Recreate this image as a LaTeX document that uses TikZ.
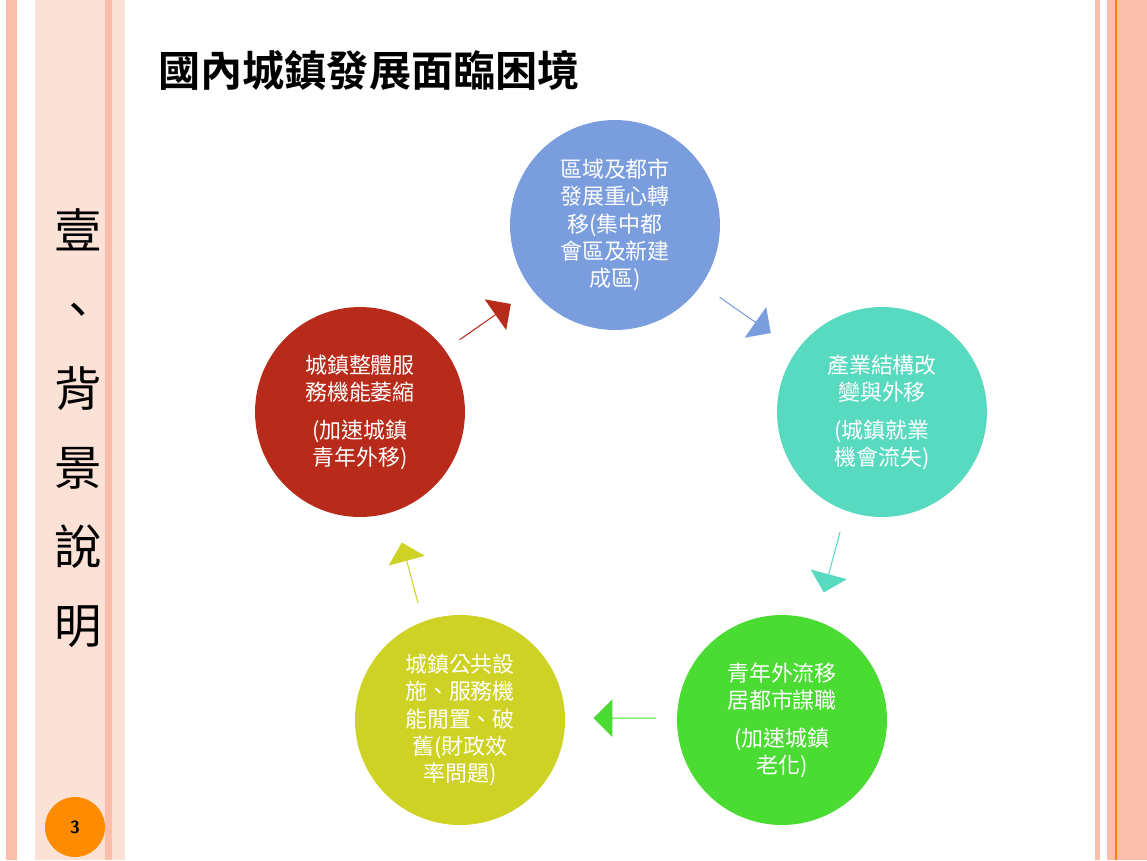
\documentclass[tikz,border=0pt]{standalone}
\usepackage{fontspec}
\newfontfamily\cjk{Noto Sans CJK TC}
\newfontfamily\cjkb{Noto Sans CJK TC Bold}
\usetikzlibrary{shapes.arrows,positioning}
\definecolor{salmon}{RGB}{250,190,170}
\definecolor{pinklt}{RGB}{252,225,215}
\definecolor{cBlue}{RGB}{122,157,222}
\definecolor{cTeal}{RGB}{88,218,192}
\definecolor{cGreen}{RGB}{74,220,50}
\definecolor{cYellow}{RGB}{206,210,36}
\definecolor{cRed}{RGB}{184,42,26}
\tikzset{
  stage/.style={circle,minimum size=4.2cm,inner sep=0pt,align=center,text=white,font=\cjk\fontsize{12.5}{15.5}\selectfont},
  blockarrow/.style={single arrow,single arrow head extend=0.25cm,minimum height=1.25cm,minimum width=0.75cm,inner sep=0pt}
}
\begin{document}
\begin{tikzpicture}[x=0.02cm,y=-0.02cm]
  % Background and borders
  \useasboundingbox[fill=white] (0,0) rectangle (1147,860);
  \fill[salmon] (6,0) rectangle (17,860);
  \fill[pinklt] (35,0) rectangle (105,860);
  \fill[salmon] (105,0) rectangle (112,860);
  \fill[pinklt] (112,0) rectangle (125,860);
  \fill[salmon] (1095,0) rectangle (1100,860);
  \fill[salmon] (1107,0) rectangle (1147,860);
  \draw[orange,line width=1.2pt] (1116,0) -- (1116,860);

  % Title and side heading
  \node[font=\cjkb\fontsize{24}{28}\selectfont,anchor=west] (title) at (152,70) {國內城鎮發展面臨困境};
  \node[font=\cjk\fontsize{27}{45}\selectfont,align=center] (side) at (78,428) {壹\\、\\背\\景\\說\\明};
  \node[circle,fill=orange!90!yellow,minimum size=1.2cm,font=\sffamily\bfseries] (page) at (75,827) {3};

  % Stages
  \node[stage,fill=cBlue] (shift) at (615,225) {區域及都市\\發展重心轉\\移(集中都\\會區及新建\\成區)};
  \node[stage,fill=cTeal] (industry) at (882,412) {產業結構改\\變與外移\\[6pt](城鎮就業\\機會流失)};
  \node[stage,fill=cGreen] (youth) at (782,720) {青年外流移\\居都市謀職\\[6pt](加速城鎮\\老化)};
  \node[stage,fill=cYellow] (idle) at (460,720) {城鎮公共設\\施、服務機\\能閒置、破\\舊(財政效\\率問題)};
  \node[stage,fill=cRed] (decline) at (360,412) {城鎮整體服\\務機能萎縮\\[6pt](加速城鎮\\青年外移)};

  % Cycle arrows
  \node[blockarrow,fill=cRed,rotate=35] (a1) at (485,322) {};
  \node[blockarrow,fill=cBlue,rotate=-35] (a2) at (745,315) {};
  \node[blockarrow,fill=cTeal,rotate=-105] (a3) at (832,562) {};
  \node[blockarrow,fill=cGreen,rotate=180] (a4) at (625,718) {};
  \node[blockarrow,fill=cYellow,rotate=105] (a5) at (410,573) {};
\end{tikzpicture}
\end{document}
